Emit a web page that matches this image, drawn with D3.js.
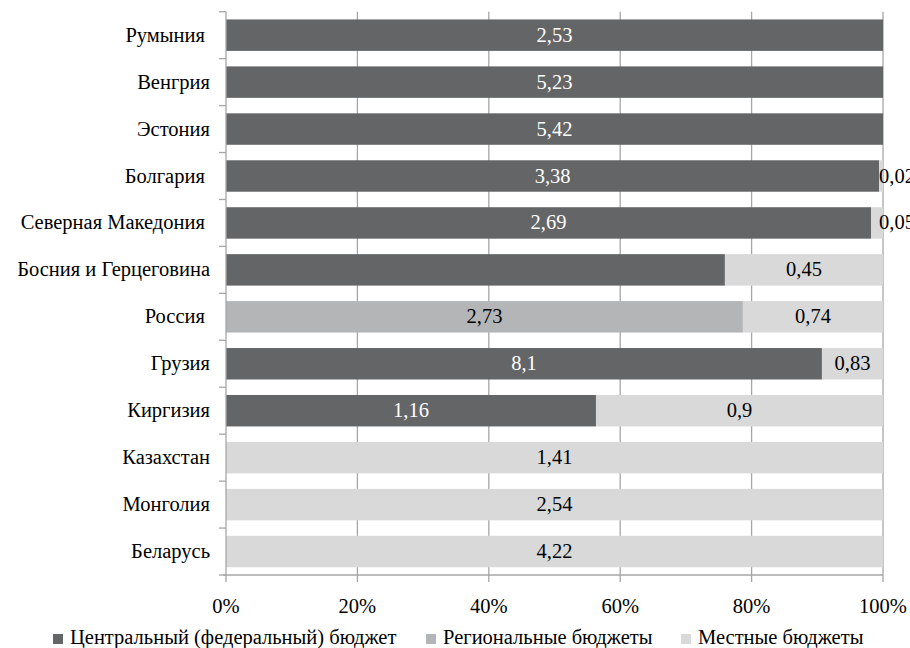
<!DOCTYPE html>
<html>
<head>
<meta charset="utf-8">
<script src="https://cdn.jsdelivr.net/npm/d3@7"></script>
<style>
  html, body { margin: 0; padding: 0; background: #fff; }
  svg text { white-space: pre; }
</style>
</head>
<body>
<svg id="chart" width="910" height="648"></svg>
<script>
// ---- data ----
const categories = ["Румыния ", "Венгрия", "Эстония", "Болгария ", "Северная Македония ",
  "Босния и Герцеговина", "Россия ", "Грузия", "Киргизия", "Казахстан", "Монголия", "Беларусь"];
const central  = [2.53, 5.23, 5.42, 3.38, 2.69, 1.42, 0,    8.1,  1.16, 0,    0,    0];
const regional = [0,    0,    0,    0,    0,    0,    2.73, 0,    0,    0,    0,    0];
const local    = [0,    0,    0,    0.02, 0.05, 0.45, 0.74, 0.83, 0.9,  1.41, 2.54, 4.22];
const seriesNames = ["Центральный (федеральный) бюджет", "Региональные бюджеты", "Местные бюджеты"];
const seriesKeys = ["central", "regional", "local"];
const hiddenLabels = ["Босния и Герцеговина|central"];
const tickValues = [0, 0.2, 0.4, 0.6, 0.8, 1.0];
const tickLabels = ["0%", "20%", "40%", "60%", "80%", "100%"];

(function () {
const FONT = '"Liberation Serif", "Times New Roman", serif';
const colors = { central: "#646567", regional: "#b4b5b7", local: "#d9d9d9" };
const labelColors = { central: "#ffffff", regional: "#000000", local: "#000000" };

const rows = categories.map((c, i) => ({ cat: c, central: central[i], regional: regional[i], local: local[i] }));
rows.forEach(r => { r.total = r.central + r.regional + r.local; });

const svg = d3.select("#chart");
const pLeft = 226, pRight = 883, pTop = 11.7, pBottom = 575;
const x = d3.scaleLinear().domain([0, 1]).range([pLeft, pRight]);
const y = d3.scaleBand().domain(categories).range([pTop, pBottom]).paddingInner(0.33).paddingOuter(0.165);
const fs = 20.5;
const gridColor = "#a6a6a6";

// gridlines
svg.append("g").selectAll("line").data(tickValues.slice(1)).join("line")
  .attr("x1", d => x(d)).attr("x2", d => x(d))
  .attr("y1", pTop).attr("y2", pBottom)
  .attr("stroke", gridColor).attr("stroke-width", 1.3);

// stacked bars
const stack = d3.stack().keys(seriesKeys).value((d, k) => d[k] / d.total);
const layers = stack(rows);
layers.forEach(layer => {
  const key = layer.key;
  svg.append("g").selectAll("rect").data(layer.filter(d => d[1] - d[0] > 0)).join("rect")
    .attr("x", d => x(d[0]))
    .attr("width", d => x(d[1]) - x(d[0]))
    .attr("y", d => y(d.data.cat))
    .attr("height", y.bandwidth())
    .attr("fill", colors[key]);
});

// left axis
const yAxisG = svg.append("g");
yAxisG.append("line").attr("x1", pLeft).attr("x2", pLeft).attr("y1", pTop).attr("y2", pBottom)
  .attr("stroke", gridColor).attr("stroke-width", 1.3);
const boundaries = d3.range(categories.length + 1).map(i => pTop + i * y.step());
yAxisG.selectAll("line.t").data(boundaries).join("line").attr("class", "t")
  .attr("x1", pLeft - 7).attr("x2", pLeft).attr("y1", d => d).attr("y2", d => d)
  .attr("stroke", gridColor).attr("stroke-width", 1.3);
yAxisG.selectAll("text").data(categories).join("text")
  .attr("x", 210).attr("y", d => y(d) + y.bandwidth() / 2)
  .attr("dy", "0.32em").attr("text-anchor", "end")
  .style("font-family", FONT).style("font-size", fs + "px").attr("fill", "#000").text(d => d);

// bottom axis
const xAxisG = svg.append("g");
xAxisG.append("line").attr("x1", pLeft - 3).attr("x2", pRight).attr("y1", pBottom).attr("y2", pBottom)
  .attr("stroke", gridColor).attr("stroke-width", 1.3);
xAxisG.selectAll("line.t").data(tickValues).join("line").attr("class", "t")
  .attr("x1", d => x(d)).attr("x2", d => x(d)).attr("y1", pBottom).attr("y2", pBottom + 7)
  .attr("stroke", gridColor).attr("stroke-width", 1.3);
xAxisG.selectAll("text").data(tickValues).join("text")
  .attr("x", d => x(d)).attr("y", 613).attr("text-anchor", "middle")
  .style("font-family", FONT).style("font-size", fs + "px").attr("fill", "#000").text((d, i) => tickLabels[i]);

// data labels
const fmt = v => String(v).replace(".", ",");
layers.forEach(layer => {
  const key = layer.key;
  const items = layer.filter(d => d[1] - d[0] > 0 && !hiddenLabels.includes(d.data.cat + "|" + key));
  svg.append("g").selectAll("text").data(items).join("text")
    .each(function (d) {
      const w = x(d[1]) - x(d[0]);
      const t = d3.select(this);
      if (w < 20) {
        t.attr("x", x(d[1]) - 4).attr("text-anchor", "start").attr("fill", "#000");
      } else {
        t.attr("x", (x(d[0]) + x(d[1])) / 2).attr("text-anchor", "middle").attr("fill", labelColors[key]);
      }
    })
    .attr("y", d => y(d.data.cat) + y.bandwidth() / 2)
    .attr("dy", "0.32em")
    .style("font-family", FONT).style("font-size", fs + "px")
    .text(d => fmt(d.data[key]));
});

// legend
const legendX = [53, 426, 681];
const lg = svg.append("g");
seriesKeys.forEach((k, i) => {
  lg.append("rect").attr("x", legendX[i]).attr("y", 634).attr("width", 10).attr("height", 10).attr("fill", colors[k]);
  lg.append("text").attr("x", legendX[i] + 17).attr("y", 644)
    .style("font-family", FONT).style("font-size", fs + "px").attr("fill", "#000").text(seriesNames[i]);
});
})();
</script>
</body>
</html>
